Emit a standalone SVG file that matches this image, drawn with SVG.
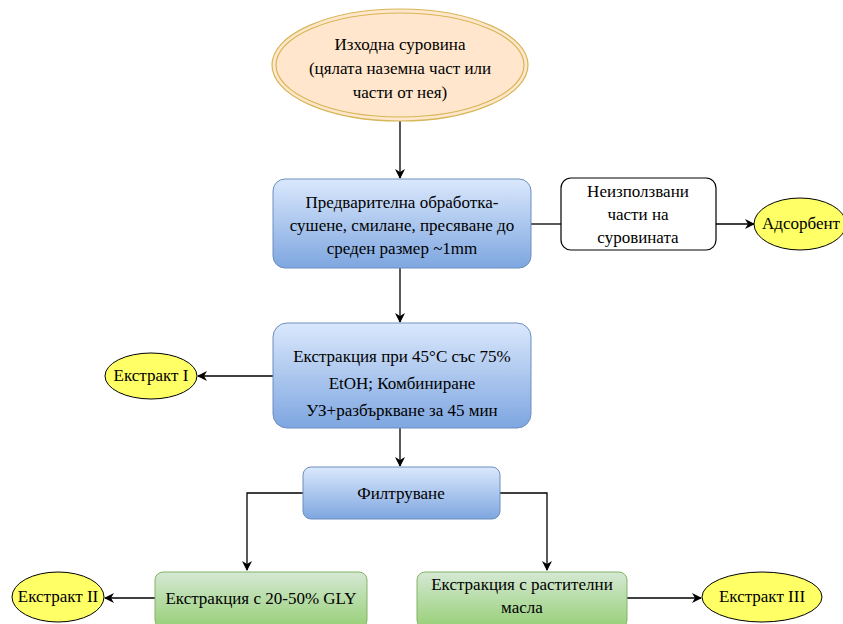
<svg xmlns="http://www.w3.org/2000/svg" width="843" height="624" viewBox="0 0 843 624">
<defs>
<linearGradient id="blue" x1="0" y1="0" x2="0" y2="1"><stop offset="0" stop-color="#dae8fc"/><stop offset="1" stop-color="#7ea6e0"/></linearGradient>
<linearGradient id="green" x1="0" y1="0" x2="0" y2="1"><stop offset="0" stop-color="#d5e8d4"/><stop offset="1" stop-color="#97d077"/></linearGradient>
<marker id="arr" viewBox="0 0 10 10" refX="9" refY="5" markerWidth="10" markerHeight="10" markerUnits="userSpaceOnUse" orient="auto"><path d="M0,0 L10,5 L0,10 L3,5 Z" fill="#000"/></marker>
</defs>
<style>
.b{fill:url(#blue);stroke:#6c8ebf;stroke-width:1}
.g{fill:url(#green);stroke:#82b366;stroke-width:1}
.y{fill:#ffff66;stroke:#000;stroke-width:1}
.c{fill:none;stroke:#000;stroke-width:1.3;marker-end:url(#arr)}
.l{fill:none;stroke:#000;stroke-width:1.3}
</style>
<g id="connectors">
<path class="c" d="M400,120 V178"/>
<path class="l" d="M531,224 H561"/>
<path class="c" d="M716,224 H754"/>
<path class="c" d="M400,268 V322"/>
<path class="c" d="M273,376 H198"/>
<path class="c" d="M400,428 V466"/>
<path class="c" d="M303,493 H247 V570"/>
<path class="c" d="M500,493 H547 V570"/>
<path class="c" d="M155,598 H105"/>
<path class="c" d="M627,598 H701"/>
</g>
<g font-family="Liberation Serif, Times New Roman, serif" font-size="17" text-anchor="middle" fill="#000">
<g id="start">
<ellipse cx="400" cy="65" rx="128" ry="56" fill="#ffe6cc" stroke="#d6b656" stroke-width="1.2"/>
<ellipse cx="400" cy="65" rx="124" ry="52" fill="none" stroke="#d6b656" stroke-width="1.2"/>
<text x="400" y="50">Изходна суровина</text>
<text x="400" y="74">(цялата наземна част или</text>
<text x="400" y="98">части от нея)</text>
</g>
<g id="pre">
<rect class="b" x="273" y="179" width="258" height="89" rx="12"/>
<text x="402" y="208">Предварителна обработка-</text>
<text x="402" y="231">сушене, смилане, пресяване до</text>
<text x="402" y="254">среден размер ~1mm</text>
</g>
<g id="unused">
<rect x="561" y="178" width="155" height="72" rx="10" fill="#fff" stroke="#000" stroke-width="1.2"/>
<text x="638" y="197">Неизползвани</text>
<text x="638" y="220">части на</text>
<text x="638" y="243">суровината</text>
</g>
<g id="adsorbent">
<ellipse class="y" cx="800" cy="224" rx="46" ry="26"/>
<text x="801" y="229">Адсорбент</text>
</g>
<g id="extraction">
<rect class="b" x="273" y="323" width="258" height="105" rx="14"/>
<text x="402" y="362">Екстракция при 45°C със 75%</text>
<text x="402" y="389">EtOH; Комбиниране</text>
<text x="402" y="416">УЗ+разбъркване за 45 мин</text>
</g>
<g id="extract1">
<ellipse class="y" cx="151" cy="376" rx="46" ry="23"/>
<text x="151" y="381">Екстракт I</text>
</g>
<g id="filter">
<rect class="b" x="303" y="467" width="197" height="52" rx="8"/>
<text x="401" y="499">Филтруване</text>
</g>
<g id="gly">
<rect class="g" x="155" y="572" width="212" height="56" rx="8"/>
<text x="261" y="604">Екстракция с 20-50% GLY</text>
</g>
<g id="oils">
<rect class="g" x="417" y="572" width="210" height="56" rx="8"/>
<text x="522" y="590">Екстракция с растителни</text>
<text x="522" y="613">масла</text>
</g>
<g id="extract2">
<ellipse class="y" cx="58" cy="597" rx="46" ry="25"/>
<text x="58" y="602">Екстракт II</text>
</g>
<g id="extract3">
<ellipse class="y" cx="762" cy="597" rx="60" ry="25"/>
<text x="762" y="602">Екстракт III</text>
</g>
</g>
</svg>
